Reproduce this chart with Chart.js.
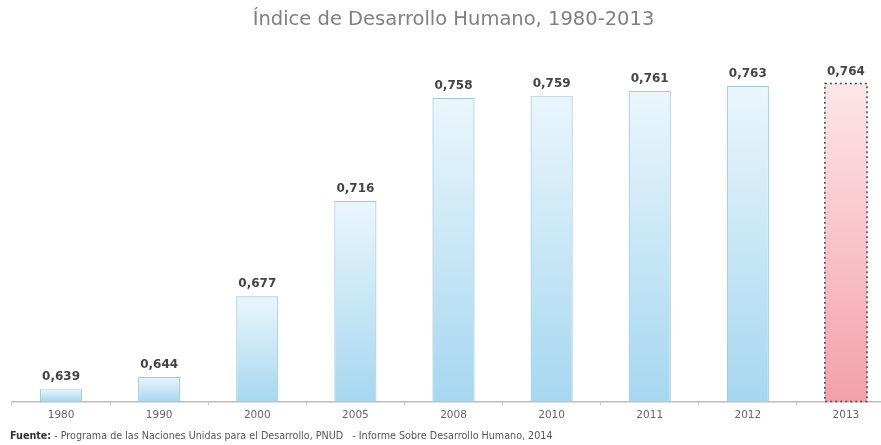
<!DOCTYPE html>
<html>
<head>
<meta charset="utf-8">
<title>Índice de Desarrollo Humano</title>
<script src="https://cdn.jsdelivr.net/npm/chart.js@4.4.0/dist/chart.umd.min.js"></script>
<style>
  html, body { margin: 0; padding: 0; background: #fff; overflow: hidden; }
  #wrap { width: 900px; height: 445px; }
</style>
</head>
<body>
<div id="wrap"><canvas id="idh" width="900" height="445"></canvas></div>
<script>
"use strict";

var years = ['1980', '1990', '2000', '2005', '2008', '2010', '2011', '2012', '2013'];
var idhValues = [0.639, 0.644, 0.677, 0.716, 0.758, 0.759, 0.761, 0.763, 0.764];
var axisMin = 0.634;
var axisMax = 0.764;

var chartTitle = 'Índice de Desarrollo Humano, 1980-2013';
var sourceLabel = 'Fuente:';
var sourceText = ' - Programa de las Naciones Unidas para el Desarrollo, PNUD   - Informe Sobre Desarrollo Humano, 2014';

var FONT = '"DejaVu Sans", "Open Sans", sans-serif';

// last bar (2013) is drawn pink with a dotted outline
function isLast(i) { return i === years.length - 1; }

function barGradient(ctx) {
    var chart = ctx.chart;
    var area = chart.chartArea;
    if (!area) return '#cde9f7';
    var top = chart.scales.y.getPixelForValue(idhValues[ctx.dataIndex]);
    var g = chart.ctx.createLinearGradient(0, top, 0, area.bottom);
    if (isLast(ctx.dataIndex)) {
        g.addColorStop(0, '#fde6e8');
        g.addColorStop(1, '#f3a1a9');
    } else {
        g.addColorStop(0, '#eaf6fc');
        g.addColorStop(1, '#a6d7f0');
    }
    return g;
}

// value labels above each bar, dotted frame on 2013, source line
var extras = {
    id: 'extras',
    afterDatasetsDraw(chart) {
        let ctx = chart.ctx;
        let meta = chart.getDatasetMeta(0);
        let bottom = chart.chartArea.bottom;
        ctx.save();
        ctx.font = 'bold 12px ' + FONT;
        ctx.fillStyle = '#444';
        ctx.textAlign = 'center';
        ctx.textBaseline = 'bottom';
        meta.data.forEach(function(bar, i) {
            let txt = idhValues[i].toFixed(3).replace('.', ',');
            ctx.fillText(txt, bar.x, bar.y - 6);
        });

        let last = meta.data[years.length - 1];
        let half = last.width / 2;
        ctx.strokeStyle = '#444';
        ctx.lineWidth = 1.5;
        ctx.setLineDash([2, 3]);
        ctx.strokeRect(last.x - half, last.y, last.width, bottom - last.y);
        ctx.restore();
    },
    afterDraw(chart) {
        let ctx = chart.ctx;
        ctx.save();
        ctx.textBaseline = 'middle';
        ctx.textAlign = 'left';
        ctx.fillStyle = '#333';
        ctx.font = 'bold 9.6px ' + FONT;
        ctx.fillText(sourceLabel, 10, 436);
        let w = ctx.measureText(sourceLabel).width;
        ctx.font = '9.6px ' + FONT;
        ctx.fillStyle = '#555';
        ctx.fillText(sourceText, 10 + w, 436);
        ctx.restore();
    }
};

window.onload = function() {
    var ctx = document.getElementById('idh').getContext('2d');
    var chart = new Chart(ctx, {
        type: 'bar',
        data: {
            labels: years,
            datasets: [{
                label: 'IDH',
                data: idhValues,
                backgroundColor: barGradient,
                borderColor: function(c) { return isLast(c.dataIndex) ? 'rgba(0,0,0,0)' : '#a5c8de'; },
                borderWidth: function(c) { return isLast(c.dataIndex) ? 0 : 1.2; },
                borderSkipped: 'bottom',
                barPercentage: 0.43,
                categoryPercentage: 1.0
            }]
        },
        options: {
            responsive: false,
            animation: false,
            layout: { padding: { left: 12, right: 5, bottom: 19, top: 0 } },
            plugins: {
                legend: { display: false },
                tooltip: { enabled: false },
                title: {
                    display: true,
                    text: chartTitle,
                    color: '#808080',
                    font: { family: FONT, size: 19.5, weight: 'normal' },
                    padding: { top: 8, bottom: 52 }
                }
            },
            scales: {
                x: {
                    offset: true,
                    grid: {
                        offset: true,
                        drawOnChartArea: false,
                        tickLength: 4,
                        color: '#c8c8c8'
                    },
                    border: { color: '#bcbcbc', width: 1.5 },
                    ticks: {
                        color: '#666',
                        padding: 4,
                        font: { family: FONT, size: 10.5 }
                    }
                },
                y: {
                    display: false,
                    min: axisMin,
                    max: axisMax
                }
            }
        },
        plugins: [extras]
    });
    window.idhChart = chart; // for debug
};
</script>
</body>
</html>
